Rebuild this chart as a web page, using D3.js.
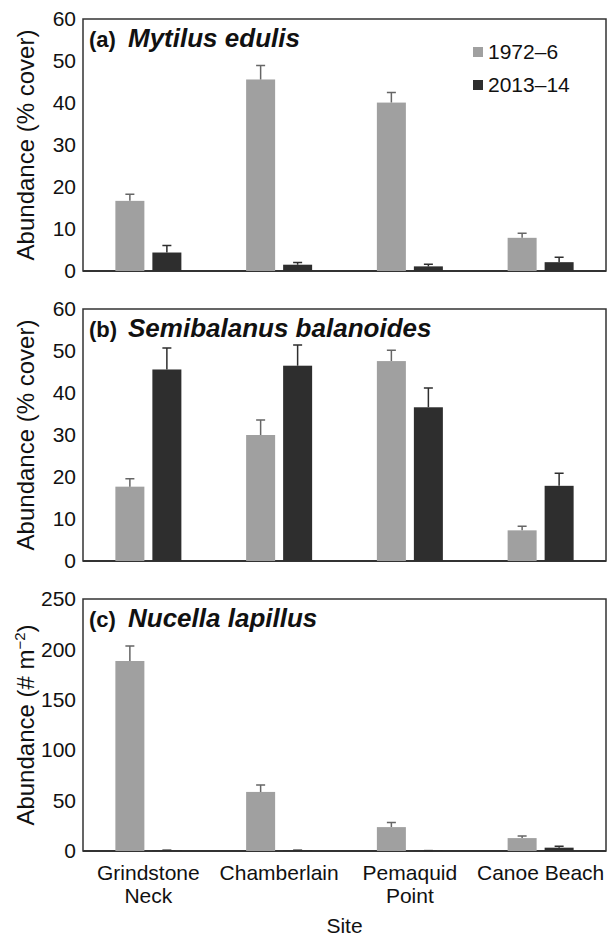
<!DOCTYPE html>
<html>
<head>
<meta charset="utf-8">
<title>Abundance by site</title>
<script src="https://d3js.org/d3.v7.min.js"></script>
<style>
  body { margin: 0; background: #fff; }
  svg { font-family: "Liberation Sans", Arial, sans-serif; }
  .tick-label { font-size: 21px; fill: #111; }
  .y-title { font-size: 24px; fill: #111; }
  .x-label { font-size: 21px; fill: #111; }
  .legend text { font-size: 21px; fill: #111; }
</style>
</head>
<body>
<div id="chart"></div>
<script>
// data
var sites = ["Grindstone Neck", "Chamberlain", "Pemaquid Point", "Canoe Beach"];
var siteLines = [["Grindstone", "Neck"], ["Chamberlain"], ["Pemaquid", "Point"], ["Canoe Beach"]];
var periods = ["1972–6", "2013–14"];

var mytilusOld = [16.7, 45.6, 40.1, 7.9];
var mytilusOldSE = [1.6, 3.3, 2.4, 1.1];
var mytilusNew = [4.4, 1.5, 1.1, 2.1];
var mytilusNewSE = [1.7, 0.5, 0.5, 1.2];

var semiOld = [17.7, 30.0, 47.6, 7.3];
var semiOldSE = [1.9, 3.6, 2.6, 1.0];
var semiNew = [45.6, 46.5, 36.6, 17.9];
var semiNewSE = [5.1, 4.9, 4.6, 3.0];

var nucellaOld = [188.5, 58.6, 23.7, 12.8];
var nucellaOldSE = [14.8, 6.9, 4.6, 2.0];
var nucellaNew = [0.8, 0.8, 0.4, 3.3];
var nucellaNewSE = [0, 0, 0, 1.3];

var panels = [
  { letter: "(a)", name: "Mytilus edulis", yTitle: "Abundance (% cover)", max: 60, ticks: [0, 10, 20, 30, 40, 50, 60],
    old: mytilusOld, oldSE: mytilusOldSE, now: mytilusNew, nowSE: mytilusNewSE },
  { letter: "(b)", name: "Semibalanus balanoides", yTitle: "Abundance (% cover)", max: 60, ticks: [0, 10, 20, 30, 40, 50, 60],
    old: semiOld, oldSE: semiOldSE, now: semiNew, nowSE: semiNewSE },
  { letter: "(c)", name: "Nucella lapillus", yTitle: "nucella", max: 250, ticks: [0, 50, 100, 150, 200, 250],
    old: nucellaOld, oldSE: nucellaOldSE, now: nucellaNew, nowSE: nucellaNewSE }
];

var W = 611, H = 937;
var left = 83, right = 606;
var panelTops = [19, 309, 599];
var panelH = 252;
var barW = 29, barStep = 37;
var colors = ["#a0a0a0", "#2e2e2e"];
var errColors = ["#666", "#2e2e2e"];

var svg = d3.select("#chart").append("svg")
  .attr("width", W)
  .attr("height", H);

var x = d3.scaleBand()
  .domain(sites)
  .range([left, right])
  .paddingInner(0)
  .paddingOuter(0);

panels.forEach(function(p, pi) {
  var top = panelTops[pi];
  var y = d3.scaleLinear().domain([0, p.max]).range([top + panelH, top]);
  var g = svg.append("g");

  // box
  g.append("rect")
    .attr("x", left).attr("y", top)
    .attr("width", right - left).attr("height", panelH)
    .attr("fill", "none").attr("stroke", "#333").attr("stroke-width", 1.5);

  // y axis labels, no tick marks
  var yAxis = d3.axisLeft(y).tickValues(p.ticks).tickSize(0).tickPadding(7);
  var ya = g.append("g")
    .attr("transform", "translate(" + left + ",0)")
    .call(yAxis);
  ya.select(".domain").remove();
  ya.selectAll("text").attr("class", "tick-label").attr("font-size", null).attr("font-family", null).attr("fill", null);

  // x axis line
  g.append("line")
    .attr("x1", left).attr("x2", right)
    .attr("y1", y(0)).attr("y2", y(0))
    .attr("stroke", "#333").attr("stroke-width", 2);

  // bars
  var series = [
    { vals: p.old, se: p.oldSE, off: -barStep / 2 },
    { vals: p.now, se: p.nowSE, off: barStep / 2 }
  ];
  series.forEach(function(s, si) {
    var sg = g.append("g");
    sg.selectAll("rect")
      .data(sites).enter()
      .append("rect")
      .attr("x", (d, i) => x(d) + x.bandwidth() / 2 + s.off - barW / 2)
      .attr("y", (d, i) => y(s.vals[i]))
      .attr("width", barW)
      .attr("height", (d, i) => y(0) - y(s.vals[i]))
      .attr("fill", colors[si]);
    // error bars (upper only)
    sg.selectAll(".err")
      .data(sites).enter()
      .append("path")
      .attr("class", "err")
      .attr("d", function(d, i) {
        var cx = x(d) + x.bandwidth() / 2 + s.off;
        var y0 = y(s.vals[i]), y1 = y(s.vals[i] + s.se[i]);
        return "M" + cx + "," + y0 + "V" + y1 + "M" + (cx - 4.5) + "," + y1 + "H" + (cx + 4.5);
      })
      .attr("fill", "none")
      .attr("stroke", errColors[si])
      .attr("stroke-width", 1.5);
  });

  // panel title
  g.append("text")
    .attr("x", left + 6)
    .attr("y", top + 28)
    .attr("font-size", "22px")
    .attr("font-weight", "bold")
    .attr("fill", "#111")
    .text(p.letter);
  g.append("text")
    .attr("x", 128)
    .attr("y", top + 28)
    .attr("font-size", "26px")
    .attr("font-weight", "bold")
    .attr("font-style", "italic")
    .attr("fill", "#111")
    .text(p.name);

  // y title
  var yt = g.append("text")
    .attr("class", "y-title")
    .attr("text-anchor", "middle")
    .attr("transform", "translate(34," + (top + panelH / 2) + ") rotate(-90)");
  if (p.yTitle === "nucella") {
    yt.append("tspan").text("Abundance (# m");
    yt.append("tspan").attr("dy", -9).attr("font-size", "15px").text("−2");
    yt.append("tspan").attr("dy", 9).text(")");
  } else {
    yt.text(p.yTitle);
  }
});

// legend
var legend = svg.append("g").attr("class", "legend");
periods.forEach(function(name, i) {
  var ly = 52 + i * 33;
  legend.append("rect")
    .attr("x", 473).attr("y", ly - 5)
    .attr("width", 10).attr("height", 10)
    .attr("fill", colors[i]);
  legend.append("text")
    .attr("x", 488).attr("y", ly + 7)
    .text(name);
});

// x labels
var xl = svg.append("g");
siteLines.forEach(function(lines, i) {
  var cx = x(sites[i]) + x.bandwidth() / 2;
  lines.forEach(function(line, j) {
    xl.append("text")
      .attr("class", "x-label")
      .attr("text-anchor", "middle")
      .attr("x", cx)
      .attr("y", 880 + j * 23)
      .text(line);
  });
});

svg.append("text")
  .attr("class", "x-label")
  .attr("text-anchor", "middle")
  .attr("x", (left + right) / 2)
  .attr("y", 933)
  .text("Site");
</script>
</body>
</html>
